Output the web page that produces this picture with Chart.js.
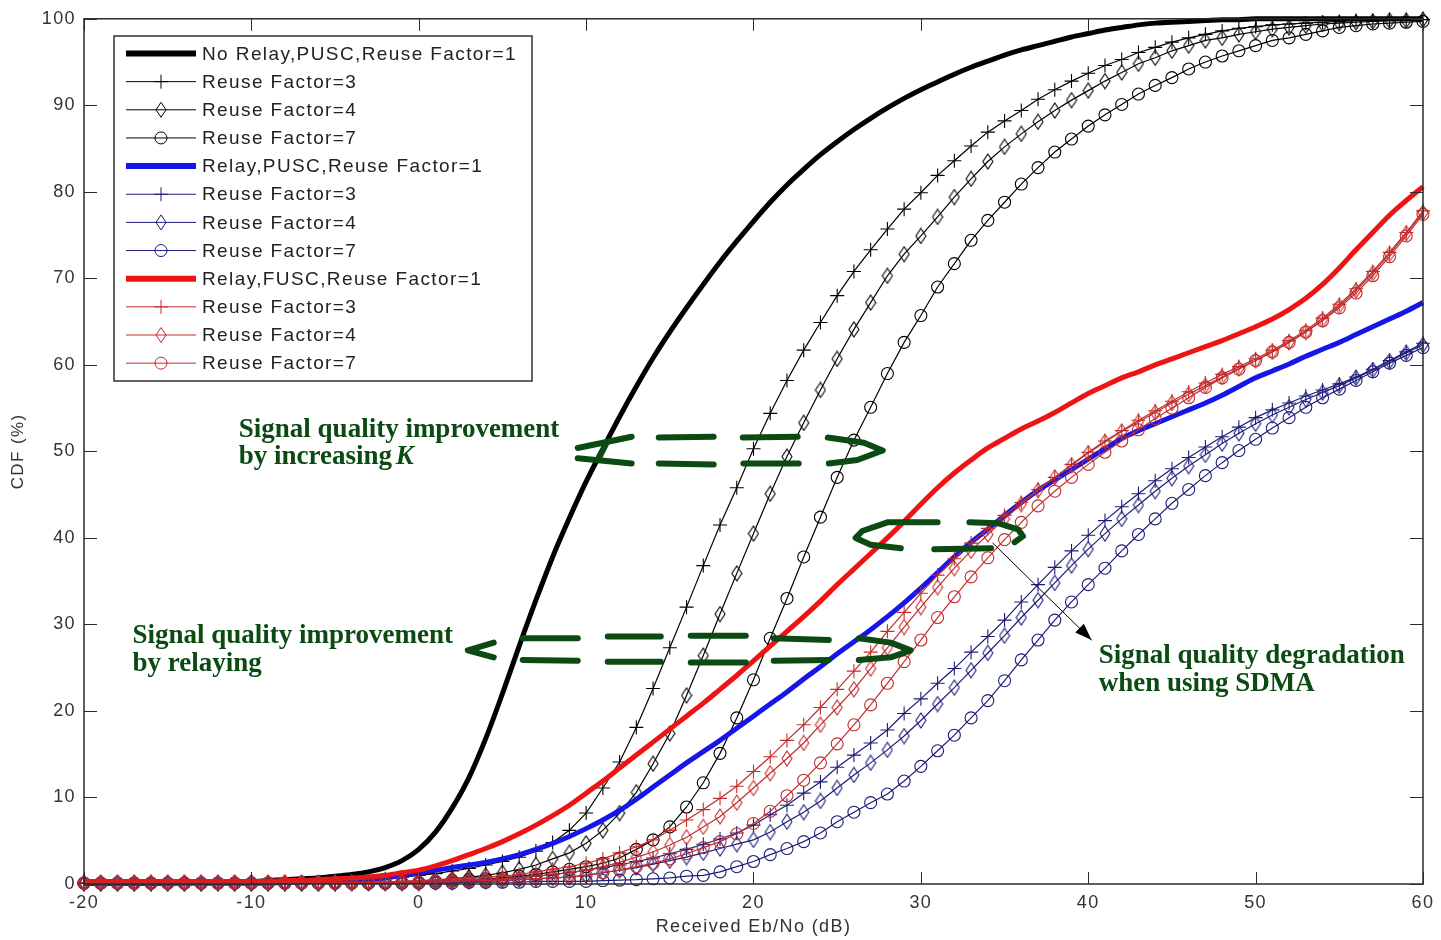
<!DOCTYPE html>
<html>
<head>
<meta charset="utf-8">
<script src="https://cdn.jsdelivr.net/npm/chart.js@4.4.1/dist/chart.umd.min.js"></script>
<style>
  html, body { margin: 0; padding: 0; background: #fff; }
  #wrap { width: 1441px; height: 940px; }
</style>
</head>
<body>
<div id="wrap"><canvas id="cdfChart" width="1441" height="940"></canvas></div>
<script>
// Received Eb/No grid (dB)
const ebno = [-20,-19,-18,-17,-16,-15,-14,-13,-12,-11,-10,-9,-8,-7,-6,-5,-4,-3,-2,-1,
  0,1,2,3,4,5,6,7,8,9,10,11,12,13,14,15,16,17,18,19,20,21,22,23,24,25,26,27,28,29,
  30,31,32,33,34,35,36,37,38,39,40,41,42,43,44,45,46,47,48,49,50,51,52,53,54,55,56,57,58,59,60];

const xTicks = [-20, -10, 0, 10, 20, 30, 40, 50, 60];
const yTicks = [0, 10, 20, 30, 40, 50, 60, 70, 80, 90, 100];

const seriesLabels = [
  "No Relay,PUSC,Reuse Factor=1", "Reuse Factor=3", "Reuse Factor=4", "Reuse Factor=7",
  "Relay,PUSC,Reuse Factor=1", "Reuse Factor=3", "Reuse Factor=4", "Reuse Factor=7",
  "Relay,FUSC,Reuse Factor=1", "Reuse Factor=3", "Reuse Factor=4", "Reuse Factor=7"
];

// CDF (%) values, one per dB from -20 to 60
const noRelay1 = [0.1,0.1,0.1,0.1,0.1,0.1,0.2,0.2,0.2,0.3, 0.3,0.4,0.5,0.6,0.7,0.9,1.1,1.4,1.9,2.7,
  4.0,6.0,8.8,12.3,16.8,22.0,27.5,32.8,37.8,42.3, 46.5,50.3,54.0,57.5,60.8,63.8,66.6,69.3,71.9,74.3,
  76.6,78.8,80.8,82.6,84.3,85.8,87.2,88.5,89.7,90.8, 91.8,92.7,93.6,94.4,95.1,95.8,96.4,96.9,97.4,97.9,
  98.3,98.7,99.0,99.3,99.5,99.6,99.7,99.8,99.9,99.9, 100,100,100,100,100,100,100,100,100,100,100];
const noRelay3 = [0.1,0.1,0.1,0.1,0.1,0.1,0.1,0.1,0.1,0.1, 0.1,0.1,0.2,0.2,0.2,0.3,0.4,0.5,0.6,0.8,
  1.0,1.2,1.5,1.8,2.2,2.6,3.1,3.8,4.8,6.2, 8.2,11.1,14.1,18.1,22.6,27.3,32.0,36.8,41.5,45.8,
  50.3,54.4,58.2,61.7,64.9,68.0,70.8,73.3,75.7,78.0, 79.9,81.9,83.6,85.3,86.9,88.2,89.4,90.7,91.8,92.8,
  93.7,94.6,95.3,96.1,96.7,97.3,97.8,98.2,98.6,98.9, 99.1,99.3,99.4,99.5,99.6,99.7,99.8,99.8,99.9,99.9,99.9];
const noRelay4 = [0.1,0.1,0.1,0.1,0.1,0.1,0.1,0.1,0.1,0.1, 0.1,0.1,0.1,0.1,0.1,0.1,0.2,0.2,0.2,0.3,
  0.3,0.4,0.6,0.8,1.0,1.3,1.7,2.2,2.9,3.6, 4.7,6.2,8.2,10.6,13.9,17.4,21.8,26.4,31.2,35.9,
  40.5,45.1,49.4,53.3,57.1,60.7,64.1,67.2,70.3,72.8, 74.9,77.1,79.4,81.5,83.5,85.2,86.7,88.1,89.4,90.6,
  91.7,92.8,93.8,94.8,95.5,96.3,96.9,97.5,97.8,98.2, 98.5,98.8,99.0,99.2,99.4,99.5,99.6,99.7,99.8,99.8,99.9];
const noRelay7 = [0.1,0.1,0.1,0.1,0.1,0.1,0.1,0.1,0.1,0.1, 0.1,0.1,0.1,0.1,0.1,0.1,0.1,0.1,0.1,0.1,
  0.2,0.3,0.4,0.5,0.6,0.7,0.9,1.1,1.4,1.7, 2.0,2.4,3.0,4.0,5.1,6.6,8.9,11.7,15.1,19.2,
  23.6,28.4,33.0,37.8,42.4,47.0,51.3,55.1,59.0,62.6, 65.7,69.0,71.7,74.4,76.7,78.8,80.9,82.8,84.6,86.1,
  87.6,88.9,90.1,91.3,92.3,93.2,94.2,95.0,95.7,96.3, 96.9,97.5,97.8,98.2,98.6,99.0,99.2,99.4,99.5,99.6,99.7];

const pusc1 = [0.1,0.1,0.1,0.1,0.1,0.1,0.1,0.1,0.1,0.1, 0.1,0.1,0.2,0.2,0.3,0.3,0.4,0.5,0.7,1.0,
  1.3,1.6,1.9,2.2,2.5,2.9,3.4,4.0,4.7,5.5, 6.4,7.4,8.5,9.8,11.2,12.6,14.0,15.3,16.6,18.0,
  19.4,20.8,22.2,23.7,25.1,26.6,28.0,29.4,30.9,32.5, 34.2,36.0,37.8,39.5,41.0,42.6,44.1,45.5,46.7,47.9,
  49.1,50.3,51.5,52.4,53.2,54.0,54.8,55.6,56.5,57.5, 58.5,59.3,60.1,61.0,61.8,62.6,63.5,64.4,65.3,66.2,67.2];
const pusc3 = [0.1,0.1,0.1,0.1,0.1,0.1,0.1,0.1,0.1,0.1, 0.1,0.1,0.1,0.1,0.1,0.1,0.1,0.1,0.1,0.1,
  0.2,0.3,0.35,0.4,0.5,0.6,0.7,0.9,1.1,1.3, 1.6,1.9,2.2,2.6,3.0,3.5,4.0,4.6,5.2,5.9,
  6.8,8.0,9.1,10.5,11.8,13.5,14.9,16.3,17.8,19.7, 21.4,23.2,24.9,26.8,28.6,30.5,32.6,34.6,36.6,38.5,
  40.3,42.0,43.6,45.1,46.6,48.0,49.3,50.5,51.7,52.8, 53.9,54.8,55.6,56.4,57.1,57.8,58.6,59.5,60.5,61.5,62.5];
const pusc4 = [0.1,0.1,0.1,0.1,0.1,0.1,0.1,0.1,0.1,0.1, 0.1,0.1,0.1,0.1,0.1,0.1,0.1,0.1,0.1,0.1,
  0.1,0.2,0.2,0.3,0.3,0.4,0.5,0.6,0.7,0.8, 1.0,1.3,1.6,1.9,2.3,2.7,3.1,3.6,4.1,4.6,
  5.1,6.0,7.2,8.3,9.6,11.1,12.6,14.0,15.5,17.1, 18.9,20.8,22.7,24.7,26.7,28.7,30.8,32.8,34.8,36.8,
  38.7,40.5,42.2,43.8,45.4,46.9,48.3,49.6,50.9,52.1, 53.2,54.2,55.1,56.0,56.8,57.6,58.5,59.4,60.4,61.4,62.3];
const pusc7 = [0.1,0.1,0.1,0.1,0.1,0.1,0.1,0.1,0.1,0.1, 0.1,0.1,0.1,0.1,0.1,0.1,0.1,0.1,0.1,0.1,
  0.1,0.1,0.1,0.2,0.2,0.2,0.2,0.3,0.3,0.3, 0.3,0.4,0.45,0.5,0.6,0.7,0.9,1.0,1.4,2.0,
  2.6,3.4,4.1,4.9,5.9,7.2,8.3,9.4,10.4,11.9, 13.6,15.4,17.2,19.2,21.2,23.5,25.9,28.2,30.5,32.6,
  34.6,36.5,38.5,40.4,42.2,44.0,45.6,47.2,48.7,50.1, 51.4,52.7,53.9,55.1,56.2,57.2,58.2,59.2,60.2,61.1,62.0];

const fusc1 = [0.3,0.3,0.3,0.3,0.3,0.3,0.3,0.3,0.3,0.3, 0.3,0.3,0.4,0.4,0.5,0.6,0.7,0.8,1.0,1.3,
  1.6,2.1,2.7,3.4,4.1,4.9,5.8,6.8,7.9,9.1, 10.5,11.9,13.4,14.9,16.4,17.9,19.4,20.9,22.5,24.1,
  25.8,27.5,29.2,30.9,32.7,34.6,36.4,38.2,40.0,41.9, 43.9,45.8,47.5,49.0,50.4,51.5,52.6,53.5,54.5,55.6,
  56.7,57.6,58.5,59.2,60.0,60.7,61.4,62.1,62.8,63.6, 64.4,65.3,66.4,67.7,69.3,71.2,73.3,75.3,77.3,79.0,80.6];
const fusc3 = [0.2,0.2,0.2,0.2,0.2,0.2,0.2,0.2,0.2,0.2, 0.2,0.2,0.2,0.2,0.2,0.2,0.2,0.2,0.2,0.3,
  0.4,0.5,0.6,0.7,0.8,0.9,1.1,1.4,1.7,2.0, 2.4,2.9,3.6,4.3,5.1,6.2,7.4,8.6,9.9,11.3,
  13.0,14.7,16.6,18.4,20.4,22.5,24.6,26.8,29.2,31.4, 33.6,35.7,37.6,39.4,41.1,42.6,44.1,45.6,47.0,48.5,
  49.9,51.2,52.4,53.6,54.7,55.8,56.9,57.9,58.9,59.8, 60.7,61.7,62.8,64.0,65.4,67.0,68.8,70.8,73.0,75.3,77.8];
const fusc4 = [0.2,0.2,0.2,0.2,0.2,0.2,0.2,0.2,0.2,0.2, 0.2,0.2,0.2,0.2,0.2,0.2,0.2,0.2,0.2,0.2,
  0.3,0.35,0.4,0.5,0.55,0.6,0.7,0.9,1.1,1.3, 1.6,2.0,2.5,3.1,3.7,4.5,5.4,6.6,7.8,9.4,
  11.1,12.8,14.5,16.3,18.4,20.4,22.5,24.9,27.3,29.7, 32.0,34.3,36.5,38.5,40.4,42.2,43.9,45.5,47.0,48.4,
  49.8,51.1,52.3,53.4,54.5,55.6,56.6,57.6,58.6,59.6, 60.5,61.5,62.6,63.8,65.2,66.8,68.6,70.6,72.8,75.2,77.6];
const fusc7 = [0.1,0.1,0.1,0.1,0.1,0.1,0.1,0.1,0.1,0.1, 0.1,0.1,0.1,0.1,0.1,0.1,0.1,0.2,0.2,0.2,
  0.2,0.25,0.3,0.35,0.4,0.45,0.5,0.6,0.7,0.8, 1.0,1.3,1.6,2.0,2.4,2.9,3.5,4.2,4.9,5.8,
  7.0,8.4,10.2,12.0,14.0,16.2,18.4,20.7,23.2,25.7, 28.2,30.8,33.2,35.5,37.7,39.8,41.8,43.7,45.4,47.0,
  48.5,49.9,51.2,52.5,53.8,55.0,56.2,57.4,58.5,59.5, 60.5,61.5,62.6,63.8,65.1,66.6,68.3,70.3,72.5,74.9,77.4];

const seriesValues = [noRelay1, noRelay3, noRelay4, noRelay7, pusc1, pusc3, pusc4, pusc7, fusc1, fusc3, fusc4, fusc7];

// styles
const BLACK = "#000000", BLUE = "#1616e8", NAVY = "#1c1c78", RED = "#ee1414", BRICK = "#c22c2c";
const GREEN = "#0b4a12";
const lineColors = [BLACK, BLACK, BLACK, BLACK, BLUE, NAVY, NAVY, NAVY, RED, BRICK, BRICK, BRICK];
const markers = [null, "cross", "diamond", "circle", null, "cross", "diamond", "circle", null, "cross", "diamond", "circle"];

// MATLAB-style tall diamond as a small canvas image
function makeDiamond(color) {
  const c = document.createElement("canvas");
  c.width = 12; c.height = 17;
  const g = c.getContext("2d");
  g.strokeStyle = color;
  g.lineWidth = 1.1;
  g.beginPath();
  g.moveTo(6, 1); g.lineTo(11, 8.5); g.lineTo(6, 16); g.lineTo(1, 8.5); g.closePath();
  g.stroke();
  return c;
}

const datasets = seriesValues.map(function (vals, i) {
  const color = lineColors[i];
  const m = markers[i];
  const ds = {
    label: seriesLabels[i],
    data: vals.map(function (v, k) { return { x: ebno[k], y: v }; }),
    borderColor: color,
    backgroundColor: color,
    fill: false,
    order: seriesValues.length - i,
    clip: false
  };
  if (!m) {
    ds.borderWidth = 5;
    ds.pointRadius = 0;
    ds.cubicInterpolationMode = "monotone";
  } else {
    ds.borderWidth = 1.2;
    ds.pointBorderColor = color;
    ds.pointBackgroundColor = "rgba(0,0,0,0)";
    ds.pointBorderWidth = 1.1;
    if (m === "cross") { ds.pointStyle = "cross"; ds.pointRadius = 7; }
    if (m === "circle") { ds.pointStyle = "circle"; ds.pointRadius = 6; }
    if (m === "diamond") { ds.pointStyle = makeDiamond(color); ds.pointRadius = 6; }
  }
  return ds;
});

// green hand-drawn arrows, in data units
const arrowK = [
  [[12.72, 51.7], [9.5, 50.4]], [[9.5, 49.2], [12.72, 48.6]], [[11.2, 50.9], [10.7, 49.0]],
  [[14.34, 51.6], [17.62, 51.7]], [[14.34, 48.6], [17.62, 48.5]],
  [[19.36, 51.6], [22.64, 51.7]], [[19.4, 48.6], [22.7, 48.6]],
  [[24.44, 51.6], [26.6, 51.0], [27.72, 50.1], [26.2, 49.0], [24.5, 48.6]]
];
const arrowRelay = [
  [[4.48, 27.9], [2.93, 27.0], [4.48, 26.2]],
  [[6.21, 28.4], [9.5, 28.4]], [[6.21, 25.9], [9.5, 25.8]],
  [[11.29, 28.6], [14.46, 28.6]], [[11.29, 25.7], [14.46, 25.7]],
  [[16.25, 28.7], [19.54, 28.7]], [[16.25, 25.6], [19.54, 25.6]],
  [[21.21, 28.4], [24.5, 28.2]], [[21.21, 25.8], [24.5, 25.9]],
  [[26.29, 28.4], [28.2, 27.9], [29.39, 27.0], [28.2, 26.2], [26.29, 25.9]]
];
const arrowSdma = [
  [[31.0, 41.8], [28.0, 41.8], [26.5, 40.8], [26.1, 40.0], [27.0, 39.2], [28.8, 38.8]],
  [[30.8, 38.7], [34.2, 38.8]],
  [[32.9, 41.8], [34.6, 41.7], [35.8, 41.0], [36.1, 40.2], [35.6, 39.5]]
];

const annotationPlugin = {
  id: "annotations",
  afterDatasetsDraw(chart) {
    const ctx = chart.ctx, xs = chart.scales.x, ys = chart.scales.y;
    const P = function (p) { return [xs.getPixelForValue(p[0]), ys.getPixelForValue(p[1])]; };
    ctx.save();
    ctx.letterSpacing = "0px";
    ctx.strokeStyle = GREEN;
    ctx.lineWidth = 6;
    ctx.lineCap = "round";
    ctx.lineJoin = "round";
    [arrowK, arrowRelay, arrowSdma].forEach(function (group) {
      group.forEach(function (stroke) {
        ctx.beginPath();
        stroke.forEach(function (pt, k) {
          const q = P(pt);
          if (k === 0) ctx.moveTo(q[0], q[1]); else ctx.lineTo(q[0], q[1]);
        });
        ctx.stroke();
      });
    });

    // black pointer arrow
    const a0 = P([34.3, 39.4]), a1 = P([40.2, 28.2]);
    ctx.strokeStyle = "#000";
    ctx.fillStyle = "#000";
    ctx.lineWidth = 1;
    ctx.beginPath(); ctx.moveTo(a0[0], a0[1]); ctx.lineTo(a1[0], a1[1]); ctx.stroke();
    const ang = Math.atan2(a1[1] - a0[1], a1[0] - a0[0]);
    ctx.beginPath();
    ctx.moveTo(a1[0], a1[1]);
    ctx.lineTo(a1[0] - 18 * Math.cos(ang - 0.35), a1[1] - 18 * Math.sin(ang - 0.35));
    ctx.lineTo(a1[0] - 18 * Math.cos(ang + 0.35), a1[1] - 18 * Math.sin(ang + 0.35));
    ctx.closePath(); ctx.fill();

    // green labels
    ctx.fillStyle = GREEN;
    ctx.textAlign = "left";
    ctx.textBaseline = "alphabetic";
    const f = 'bold 27px "Liberation Serif", "Times New Roman", serif';
    const fi = 'italic bold 27px "Liberation Serif", "Times New Roman", serif';
    ctx.font = f;
    let p = P([-10.75, 51.7]);
    ctx.fillText("Signal quality improvement", p[0], p[1]);
    p = P([-10.75, 48.5]);
    ctx.fillText("by increasing ", p[0], p[1]);
    const w = ctx.measureText("by increasing ").width;
    ctx.font = fi;
    ctx.fillText("K", p[0] + w - 3, p[1]);
    ctx.font = f;
    p = P([-17.1, 27.8]);
    ctx.fillText("Signal quality improvement", p[0], p[1]);
    p = P([-17.1, 24.6]);
    ctx.fillText("by relaying", p[0], p[1]);
    p = P([40.63, 25.5]);
    ctx.fillText("Signal quality degradation", p[0], p[1]);
    p = P([40.63, 22.3]);
    ctx.fillText("when using SDMA", p[0], p[1]);
    ctx.restore();
  }
};

function drawMarker(ctx, m, x, y) {
  ctx.beginPath();
  if (m === "circle") ctx.arc(x, y, 6, 0, Math.PI * 2);
  if (m === "cross") { ctx.moveTo(x - 7, y); ctx.lineTo(x + 7, y); ctx.moveTo(x, y - 7); ctx.lineTo(x, y + 7); }
  if (m === "diamond") { ctx.moveTo(x, y - 7.5); ctx.lineTo(x + 5, y); ctx.lineTo(x, y + 7.5); ctx.lineTo(x - 5, y); ctx.closePath(); }
  ctx.stroke();
}

const frameAndLegendPlugin = {
  id: "frameLegend",
  beforeDraw(chart) {
    chart.ctx.letterSpacing = "1.4px";
  },
  afterDraw(chart) {
    const ctx = chart.ctx, a = chart.chartArea, xs = chart.scales.x, ys = chart.scales.y;
    ctx.save();
    // axes box + inward ticks (all four sides)
    ctx.strokeStyle = "#2b2b2b";
    ctx.lineWidth = 1.5;
    ctx.strokeRect(a.left, a.top, a.right - a.left, a.bottom - a.top);
    ctx.lineWidth = 1;
    ctx.beginPath();
    xTicks.forEach(function (v) {
      const px = Math.round(xs.getPixelForValue(v)) + 0.5;
      ctx.moveTo(px, a.bottom); ctx.lineTo(px, a.bottom - 12);
      ctx.moveTo(px, a.top); ctx.lineTo(px, a.top + 12);
    });
    yTicks.forEach(function (v) {
      const py = Math.round(ys.getPixelForValue(v)) + 0.5;
      ctx.moveTo(a.left, py); ctx.lineTo(a.left + 13, py);
      ctx.moveTo(a.right, py); ctx.lineTo(a.right - 13, py);
    });
    ctx.stroke();

    // legend box
    const bx = 114, by = 36, bw = 418, bh = 345;
    ctx.fillStyle = "#fff";
    ctx.fillRect(bx, by, bw, bh);
    ctx.strokeStyle = "#333";
    ctx.lineWidth = 1.5;
    ctx.strokeRect(bx, by, bw, bh);
    ctx.font = '19px "Liberation Sans", Arial, sans-serif';
    ctx.letterSpacing = "1.4px";
    ctx.textBaseline = "middle";
    ctx.textAlign = "left";
    chart.data.datasets.forEach(function (ds, i) {
      const yy = 53.5 + i * 28.15;
      ctx.strokeStyle = ds.borderColor;
      ctx.lineWidth = markers[i] ? 1 : 6;
      ctx.beginPath(); ctx.moveTo(126, yy); ctx.lineTo(196, yy); ctx.stroke();
      if (markers[i]) { ctx.lineWidth = 1; drawMarker(ctx, markers[i], 161, yy); }
      ctx.fillStyle = "#222";
      ctx.fillText(ds.label, 202, yy + 1);
    });
    ctx.restore();
  }
};

const tickFont = { family: '"Liberation Sans", Arial, sans-serif', size: 18 };

new Chart(document.getElementById("cdfChart"), {
  type: "line",
  data: { datasets: datasets },
  options: {
    responsive: false,
    animation: false,
    events: [],
    layout: { padding: { top: 18, right: 18, left: 0, bottom: 0 } },
    plugins: { legend: { display: false }, tooltip: { enabled: false } },
    scales: {
      x: {
        type: "linear", min: -20, max: 60,
        afterBuildTicks: function (s) { s.ticks = xTicks.map(function (v) { return { value: v }; }); },
        ticks: { color: "#333", font: tickFont, padding: 8, maxRotation: 0 },
        grid: { display: false, drawTicks: false },
        border: { display: false },
        title: { display: true, text: "Received Eb/No (dB)", color: "#333", font: tickFont, padding: { top: 0, bottom: 2 } },
        afterFit: function (s) { s.height = 56; }
      },
      y: {
        type: "linear", min: 0, max: 100,
        afterBuildTicks: function (s) { s.ticks = yTicks.map(function (v) { return { value: v }; }); },
        ticks: { color: "#333", font: tickFont, padding: 8 },
        grid: { display: false, drawTicks: false },
        border: { display: false },
        title: { display: true, text: "CDF (%)", color: "#333", font: { family: tickFont.family, size: 17 }, padding: { top: 8, bottom: 0 } },
        afterFit: function (s) { s.width = 84; }
      }
    }
  },
  plugins: [annotationPlugin, frameAndLegendPlugin]
});
</script>
</body>
</html>
